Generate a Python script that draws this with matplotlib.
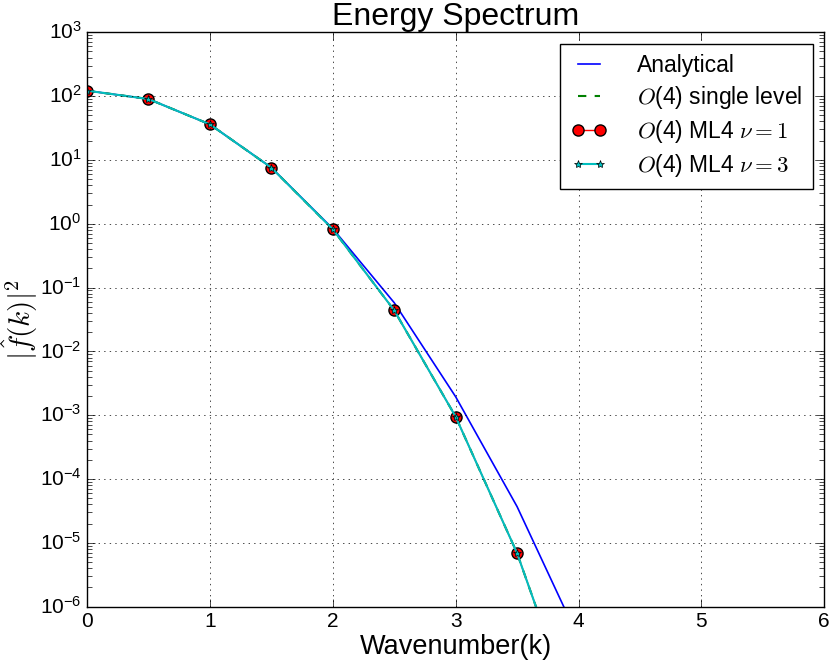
import numpy as np
import matplotlib
matplotlib.use("Agg")
import matplotlib.pyplot as plt

# values
k = [0.0, 0.5, 1.0, 1.5, 2.0, 2.5, 3.0, 3.5, 4.0]
analytical = [121.5, 90.0, 36.1, 7.6, 0.84, 0.058, 1.95e-3, 3.7e-5, 3.2e-7]
single_level = [121.5, 90.0, 36.1, 7.57, 0.82, 0.044, 9.5e-4, 6.9e-6, 1.3e-8]
ml4_nu1 = [121.5, 90.0, 36.1, 7.57, 0.82, 0.044, 9.5e-4, 6.9e-6, 1.3e-8]
ml4_nu3 = [121.5, 90.0, 36.1, 7.57, 0.82, 0.044, 9.5e-4, 6.9e-6, 1.3e-8]

plt.style.use("classic")
plt.rcParams["font.family"] = ["Liberation Sans", "DejaVu Sans"]
plt.rcParams["mathtext.fontset"] = "cm"
plt.rcParams["xtick.major.size"] = 6
plt.rcParams["ytick.major.size"] = 6
plt.rcParams["ytick.minor.size"] = 3.5
plt.rcParams["xtick.labelsize"] = 15
plt.rcParams["ytick.labelsize"] = 15

fig = plt.figure(figsize=(8.3, 6.64), dpi=100, facecolor="w")
ax = fig.add_axes([0.1048, 0.0863, 0.8883, 0.8651])

ax.semilogy(k, analytical, "b-", lw=1.2, label="Analytical")
ax.semilogy(k, single_level, "g--", lw=1.5, label="$O$(4) single level")
ax.semilogy(k, ml4_nu1, "r-o", lw=1.0, ms=8, mec="k", mew=1.0,
            label=r"$O$(4) ML4 $\nu=1$")
ax.semilogy(k, ml4_nu3, "c-*", lw=1.5, ms=6, mec="k", mew=0.5,
            label=r"$O$(4) ML4 $\nu=3$")

ax.set_xlim(0, 6)
ax.set_ylim(1e-6, 1e3)
ax.grid(True)
ax.set_title("Energy Spectrum", fontsize=23)
ax.set_xlabel("Wavenumber(k)", fontsize=19.5, labelpad=2)
ax.set_ylabel(r"$|\hat{f}(k)|^2$", fontsize=21)
ax.yaxis.set_label_coords(-0.064, 0.5)
ax.legend(loc="upper right", fontsize=16.5, handlelength=1.6, numpoints=2,
          handletextpad=1.3, borderpad=0.45, labelspacing=0.3)

plt.savefig("out.png", dpi=100, facecolor="w")
